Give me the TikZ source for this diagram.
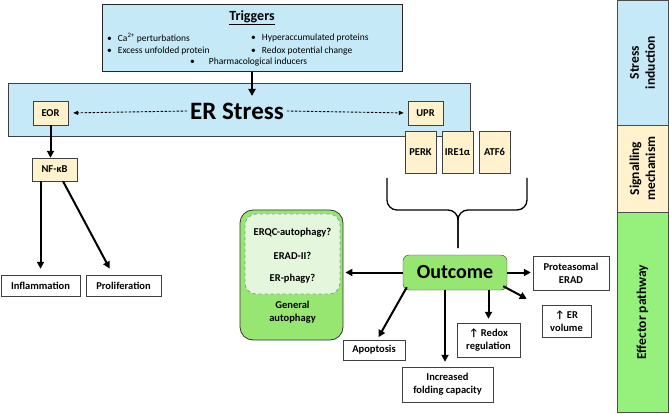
\documentclass[tikz,border=0pt]{standalone}
\usepackage{fontspec}
\setmainfont{Carlito}
\usetikzlibrary{arrows.meta,positioning}

\definecolor{trigblue}{HTML}{C5E9F7}
\definecolor{sigyellow}{HTML}{FFF2CC}
\definecolor{effgreen}{HTML}{95F07C}
\definecolor{outgreen}{HTML}{98E672}
\definecolor{palegreen}{HTML}{E4F6DC}
\definecolor{dashblue}{HTML}{7E9CB8}

\tikzset{
  box/.style={rectangle, draw=black!75, fill=white, text centered, align=center, inner sep=1pt, font=\bfseries\fontsize{10.5}{13}\selectfont},
  ybox/.style={box, fill=sigyellow},
  arr/.style={-{Triangle[length=7pt,width=7pt]}, line width=2pt},
  dasharr/.style={-{Triangle[length=5pt,width=4pt]}, dash pattern=on 2.5pt off 1.5pt, line width=0.9pt},
  bullet/.style={anchor=west, inner sep=0pt, font=\fontsize{9.5}{11}\selectfont},
  sidebox/.style={rectangle, draw=black!70, minimum width=51pt, text centered, align=center, font=\bfseries\fontsize{13.5}{16}\selectfont}
}

\begin{document}
\begin{tikzpicture}[x=1pt, y=-1pt]
    \useasboundingbox (0,0) rectangle (669,414);

    % triggers
    \node (triggers) [rectangle, draw=black!85, line width=1pt, fill=trigblue, minimum width=300pt, minimum height=67pt] at (252,38.5) {};
    \node (trigtitle) [font=\bfseries\fontsize{14}{16}\selectfont] at (252,18) {\underline{Triggers}};
    \node (t1) [bullet] at (107,38) {\textbullet\hspace{6pt}Ca\textsuperscript{2+} perturbations};
    \node (t2) [bullet] at (107,51) {\textbullet\hspace{6pt}Excess unfolded protein};
    \node (t3) [bullet] at (251,38) {\textbullet\hspace{6pt}Hyperaccumulated proteins};
    \node (t4) [bullet] at (251,51) {\textbullet\hspace{6pt}Redox potential change};
    \node (t5) [bullet] at (190,62) {\textbullet\hspace{14pt}Pharmacological inducers};

    % ER stress
    \node (erstress) [rectangle, draw=black!75, fill=trigblue, minimum width=462pt, minimum height=53pt] at (239,110) {};
    \node (erlabel) [inner sep=3pt, font=\bfseries\fontsize{25}{27}\selectfont] at (237,111) {ER Stress};
    \node (eor) [ybox, minimum width=35pt, minimum height=24pt] at (50.5,113) {EOR};
    \node (upr) [ybox, minimum width=35pt, minimum height=24pt] at (425.5,113) {UPR};
    \node (perk) [ybox, minimum width=31pt, minimum height=42pt] at (420.5,152) {PERK};
    \node (ire1) [ybox, minimum width=31pt, minimum height=42pt] at (457.5,152) {IRE1α};
    \node (atf6) [ybox, minimum width=31pt, minimum height=42pt] at (494.5,152) {ATF6};
    \coordinate (erin) at (252,96);
    \draw[arr] (triggers.south) -- (erin);
    \draw[dasharr, shorten >=5pt] (erlabel.west) -- (eor.east);
    \draw[dasharr, shorten >=4pt] (erlabel.east) -- (upr.west);

    % EOR branch
    \node (nfkb) [ybox, minimum width=45pt, minimum height=23pt] at (54.5,169.5) {NF-κB};
    \node (inflam) [box, minimum width=79pt, minimum height=21pt] at (40.5,285.5) {Inflammation};
    \node (prolif) [box, minimum width=75pt, minimum height=21pt] at (123.5,285.5) {Proliferation};
    \draw[arr] (eor.south) -- (eor.south |- nfkb.north);
    \draw[arr, shorten >=6pt] (nfkb.south -| inflam.north) -- (inflam.north);
    \draw[arr, shorten >=7pt] ([xshift=8.5pt]nfkb.south) -- ([xshift=-10.5pt]prolif.north);

    % brace
    \draw[line width=1.3pt, rounded corners=10pt] (387,178) -- (387,210) -- (458,210) -- (458,248);
    \draw[line width=1.3pt, rounded corners=10pt] (527,178) -- (527,210) -- (458,210) -- (458,248);

    % outcome
    \node (outcome) [rectangle, rounded corners=6pt, draw=black!75, fill=outgreen, minimum width=104pt, minimum height=35pt, font=\bfseries\fontsize{20}{22}\selectfont] at (455,272.5) {Outcome};
    \node (autoph) [rectangle, rounded corners=13pt, draw=black!80, line width=0.8pt, fill=outgreen, minimum width=103pt, minimum height=130pt] at (291.5,275) {};
    \node (autophin) [rectangle, rounded corners=11pt, draw=dashblue, dashed, line width=0.8pt, fill=palegreen, minimum width=95pt, minimum height=80pt] at (292.5,254) {};
    \node (erqc) [font=\bfseries\fontsize{10.5}{12}\selectfont] at (292.5,233) {ERQC-autophagy?};
    \node (erad2) [font=\bfseries\fontsize{10.5}{12}\selectfont] at (292.5,256) {ERAD-II?};
    \node (erphagy) [font=\bfseries\fontsize{10.5}{12}\selectfont] at (292.5,279) {ER-phagy?};
    \node (general) [align=center, font=\bfseries\fontsize{10.5}{13.5}\selectfont] at (292.5,312) {General\\autophagy};
    \node (erad) [box, minimum width=76pt, minimum height=34pt] at (571,273) {Proteasomal\\ERAD};
    \node (ervol) [box, minimum width=49pt, minimum height=32pt] at (566.5,321) {↑ ER\\volume};
    \node (redox) [box, minimum width=63pt, minimum height=34pt] at (488.5,340) {↑ Redox\\regulation};
    \node (folding) [box, minimum width=91pt, minimum height=35pt] at (447.5,384.5) {Increased\\folding capacity};
    \node (apop) [box, minimum width=62pt, minimum height=20pt] at (374,350) {Apoptosis};
    \draw[arr, shorten >=2pt] (outcome.west) -- (outcome.west -| autoph.east);
    \draw[arr, shorten >=2pt] (outcome.east) -- (outcome.east -| erad.west);
    \draw[arr] ([xshift=-4pt,yshift=4pt]outcome.south east) -- ([xshift=-15pt,yshift=6pt]ervol.north west);
    \draw[arr, shorten >=4pt] (outcome.south -| redox.north) -- (redox.north);
    \draw[arr, shorten >=5pt] ([xshift=-2.5pt]outcome.south -| folding.north) -- ([xshift=-2.5pt]folding.north);
    \draw[arr, shorten >=3pt] ([xshift=4pt,yshift=3pt]outcome.south west) -- ([xshift=3pt]apop.north);

    % side bar
    \node (sidestress) [sidebox, fill=trigblue, minimum height=125pt] at (642.5,62.5) {};
    \node (sidesignal) [sidebox, fill=sigyellow, minimum height=87pt] at (642.5,168.5) {};
    \node (sideeffect) [sidebox, fill=effgreen, minimum height=200pt] at (642.5,312) {};
    \node [rotate=90, align=center, font=\bfseries\fontsize{13.5}{16}\selectfont] at (sidestress) {Stress\\induction};
    \node [rotate=90, align=center, font=\bfseries\fontsize{13.5}{16}\selectfont] at (sidesignal) {Signalling\\mechanism};
    \node [rotate=90, align=center, font=\bfseries\fontsize{13.5}{16}\selectfont] at (sideeffect) {Effector pathway};
\end{tikzpicture}
\end{document}
